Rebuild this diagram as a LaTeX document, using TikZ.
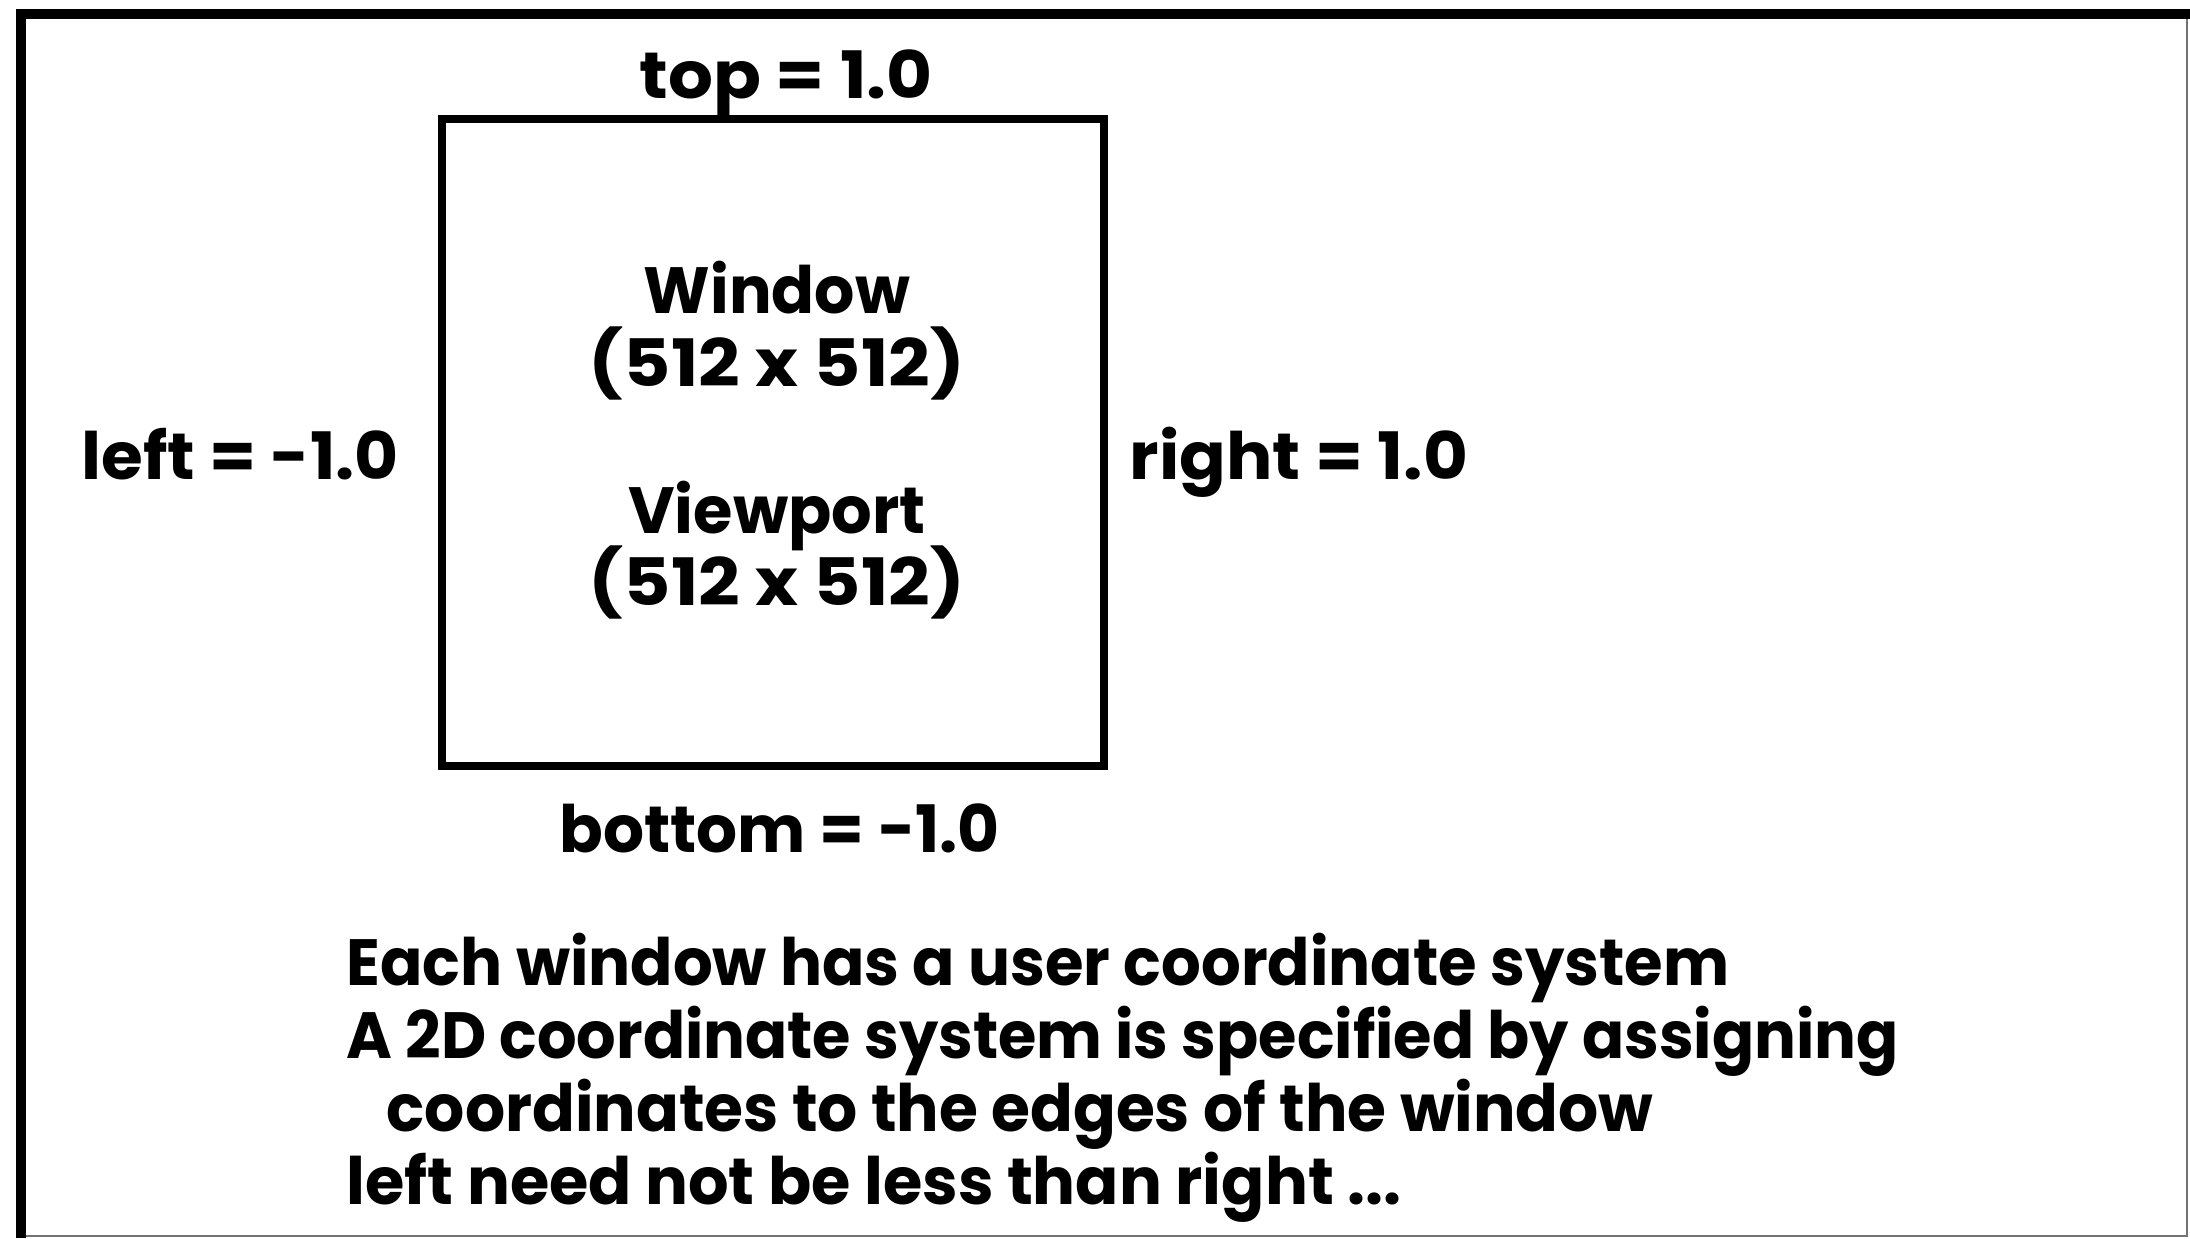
\documentclass[tikz,border=0pt]{standalone}
\usepackage{graphicx}
\usepackage{fontspec}
\setmainfont{Poppins}
\newcommand{\fitw}[2]{\resizebox{#1}{\height}{#2}}
\tikzset{
  lbl/.style={inner sep=0pt, font=\fontsize{18.6}{22}\selectfont\bfseries, text=black},
  frameedge/.style={line width=0.09cm, black},
  frameshade/.style={line width=0.025cm, black!55},
  winbox/.style={draw=black, line width=0.075cm, rectangle, inner sep=0pt, minimum width=6.62cm, minimum height=6.47cm}
}
\begin{document}
\begin{tikzpicture}[x=0.01cm, y=-0.01cm]
\fill[white] (0,0) rectangle (2190,1238);
\useasboundingbox (0,0) rectangle (2190,1238);
% outer frame
\coordinate (ftl) at (21,14);
\coordinate (ftr) at (2190,14);
\coordinate (fbl) at (21,1238);
\coordinate (rtop) at (2187,14);
\coordinate (rbot) at (2187,1236);
\coordinate (bl) at (21,1236);
\draw[frameshade] (rtop) -- (rbot) -- (bl);
\draw[frameedge, line width=0.1cm] (16,14) -- (ftr);
\draw[frameedge] (ftl) -- (fbl);
% window box
\node[winbox] (win) at (773,442.5) {};
% labels
\node[lbl, anchor=base] (top) at (786,98) {\fitw{2.93cm}{top = 1.0}};
\node[lbl, anchor=base] (wname) at (777,313) {\fitw{2.66cm}{Window}};
\node[lbl, anchor=base] (wsize) at (777,386) {\fitw{3.76cm}{(512 x 512)}};
\node[lbl, anchor=base] (vname) at (777,533) {\fitw{2.97cm}{Viewport}};
\node[lbl, anchor=base] (vsize) at (777,605) {\fitw{3.76cm}{(512 x 512)}};
\node[lbl, anchor=base west] (left) at (81,479) {\fitw{3.17cm}{left = -1.0}};
\node[lbl, anchor=base west] (right) at (1129,479) {\fitw{3.38cm}{right = 1.0}};
\node[lbl, anchor=base west] (bottom) at (559,852) {\fitw{4.40cm}{bottom = -1.0}};
% description
\node[lbl, anchor=base west] (l1) at (346,985) {\fitw{13.82cm}{Each window has a user coordinate system}};
\node[lbl, anchor=base west] (l2) at (346,1058) {\fitw{15.51cm}{A 2D coordinate system is specified by assigning}};
\node[lbl, anchor=base west] (l3) at (386,1131) {\fitw{12.66cm}{coordinates to the edges of the window}};
\node[lbl, anchor=base west] (l4) at (346,1204) {\fitw{10.54cm}{left need not be less than right ...}};
\end{tikzpicture}
\end{document}
